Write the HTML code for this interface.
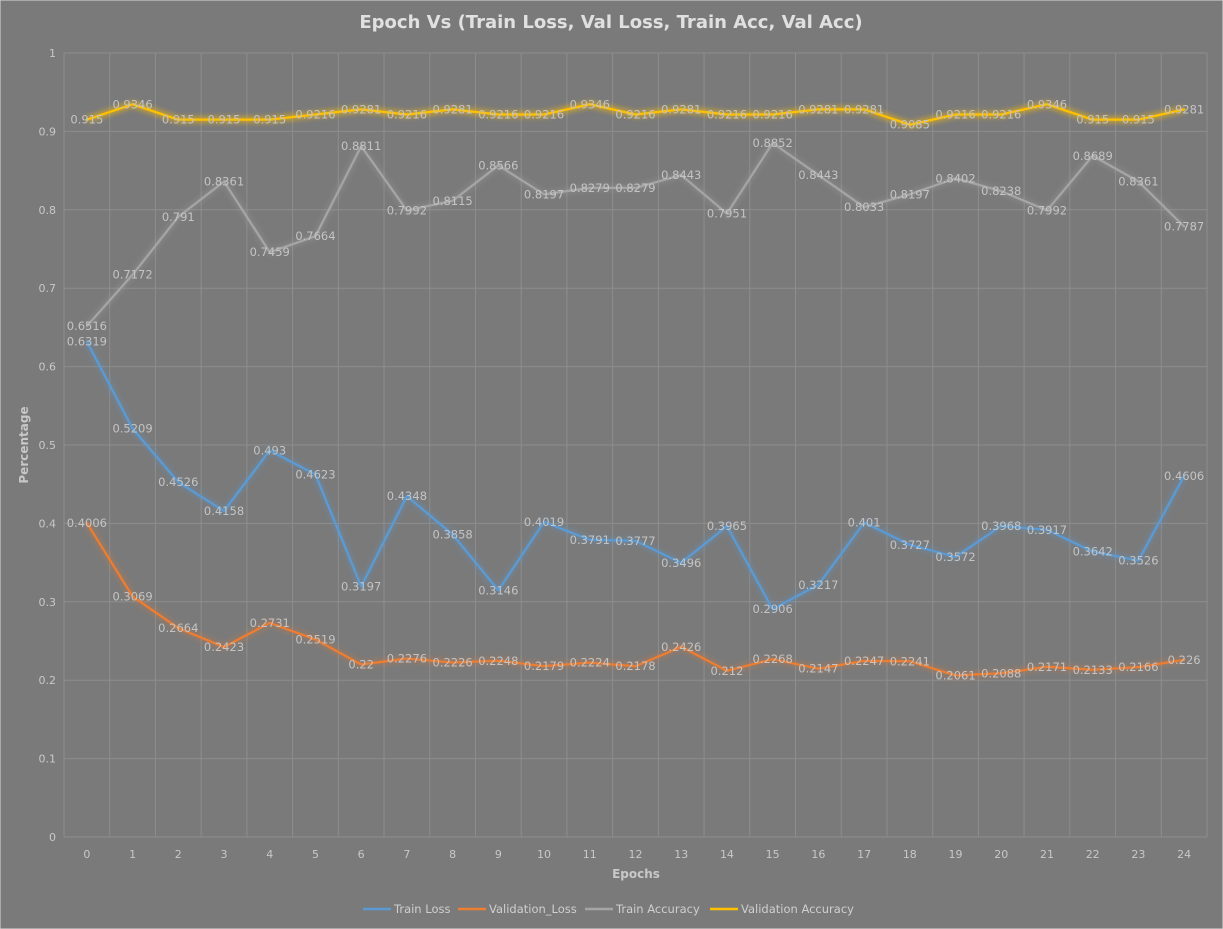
<!DOCTYPE html>
<html><head><meta charset="utf-8"><style>
html,body{margin:0;padding:0;background:#7a7a7a;}
svg{display:block;font-family:"DejaVu Sans","Liberation Sans",sans-serif;}
</style></head><body>
<svg id="chart" width="1223" height="929">
<defs>
<filter id="glow" x="-5%" y="-50%" width="110%" height="200%"><feGaussianBlur stdDeviation="2.5"/></filter>
</defs>
<rect x="0" y="0" width="1223" height="929" fill="#7a7a7a" stroke="#d9d9d9"/>
<text x="611" y="28" text-anchor="middle" font-size="18" font-weight="bold" fill="#e0e0e0">Epoch Vs (Train Loss, Val Loss, Train Acc, Val Acc)</text>
<g id="grid"></g>
<g id="series"></g>
<g id="labels"></g>
<text x="0" y="0" transform="translate(28,445) rotate(-90)" text-anchor="middle" font-size="12" font-weight="bold" fill="#c8c8c8">Percentage</text>
<text x="636" y="878" text-anchor="middle" font-size="12" font-weight="bold" fill="#c8c8c8">Epochs</text>
<g id="legend"></g>
</svg>
<script>
const epochs = [0,1,2,3,4,5,6,7,8,9,10,11,12,13,14,15,16,17,18,19,20,21,22,23,24];
const trainLoss = [0.6319,0.5209,0.4526,0.4158,0.493,0.4623,0.3197,0.4348,0.3858,0.3146,0.4019,0.3791,0.3777,0.3496,0.3965,0.2906,0.3217,0.401,0.3727,0.3572,0.3968,0.3917,0.3642,0.3526,0.4606];
const valLoss = [0.4006,0.3069,0.2664,0.2423,0.2731,0.2519,0.22,0.2276,0.2226,0.2248,0.2179,0.2224,0.2178,0.2426,0.212,0.2268,0.2147,0.2247,0.2241,0.2061,0.2088,0.2171,0.2133,0.2166,0.226];
const trainAcc = [0.6516,0.7172,0.791,0.8361,0.7459,0.7664,0.8811,0.7992,0.8115,0.8566,0.8197,0.8279,0.8279,0.8443,0.7951,0.8852,0.8443,0.8033,0.8197,0.8402,0.8238,0.7992,0.8689,0.8361,0.7787];
const valAcc = [0.915,0.9346,0.915,0.915,0.915,0.9216,0.9281,0.9216,0.9281,0.9216,0.9216,0.9346,0.9216,0.9281,0.9216,0.9216,0.9281,0.9281,0.9085,0.9216,0.9216,0.9346,0.915,0.915,0.9281];
const yTicks = [0,0.1,0.2,0.3,0.4,0.5,0.6,0.7,0.8,0.9,1];
const seriesNames = ["Train Loss","Validation_Loss","Train Accuracy","Validation Accuracy"];

const NS="http://www.w3.org/2000/svg";
const L=64,R=1207,T=53,B=837;
const step=(R-L)/epochs.length;
const x=i=>L+step*(i+0.5);
const y=v=>B-(B-T)*v;
function mk(tag,attrs,parent,text){const e=document.createElementNS(NS,tag);for(const k in attrs)e.setAttribute(k,attrs[k]);if(text!==undefined)e.textContent=text;parent.appendChild(e);return e;}
const grid=document.getElementById('grid');
yTicks.forEach(t=>{
  const ln=mk('line',{x1:L,x2:R,y1:y(t),y2:y(t),stroke:'#8e8e8e','stroke-width':1},grid);
  
  
  const tx=mk('text',{x:56,y:y(t)+4,'text-anchor':'end','font-size':11,fill:'#c8c8c8'},grid,String(t));
  
  
});
for(let i=0;i<=epochs.length;i++){
  const ln=mk('line',{x1:L+step*i,x2:L+step*i,y1:T,y2:B,stroke:'#8e8e8e','stroke-width':1},grid);
  
  
}
epochs.forEach((e,i)=>{
  const tx=mk('text',{x:x(i),y:B+21,'text-anchor':'middle','font-size':11,fill:'#c8c8c8'},grid,String(e));
  
  
});
const sdata=[trainLoss,valLoss,trainAcc,valAcc];
const colors=['#5b9bd5','#ed7d31','#a5a5a5','#ffc000'];
const glowOp=[0.25,0.25,0.25,0.5];
const sg=document.getElementById('series'), lg=document.getElementById('labels');
sdata.forEach((d,s)=>{
  const pts=d.map((v,i)=>x(i)+','+y(v)).join(' ');
  const gl=mk('polyline',{points:pts,fill:'none',stroke:colors[s],'stroke-width':7,opacity:glowOp[s],filter:'url(#glow)','stroke-linejoin':'round'},sg);
  
  
  const pl=mk('polyline',{points:pts,fill:'none',stroke:colors[s],'stroke-width':2.25,'stroke-linejoin':'round','stroke-linecap':'round'},sg);
  
  
  d.forEach((v,i)=>{
    const t=mk('text',{x:x(i),y:y(v)+4,'text-anchor':'middle','font-size':11.5,fill:'#c4c4c4'},lg,String(v));
    
    
  });
});
const leg=document.getElementById('legend');
const lx=[363,458,585,710];
seriesNames.forEach((n,s)=>{
  const g=mk('g',{},leg);
  
  
  mk('line',{x1:lx[s],x2:lx[s]+28,y1:909,y2:909,stroke:colors[s],'stroke-width':2.5},g);
  mk('text',{x:lx[s]+31,y:913,'font-size':11.5,fill:'#cfcfcf'},g,n);
});
</script>
</body></html>
